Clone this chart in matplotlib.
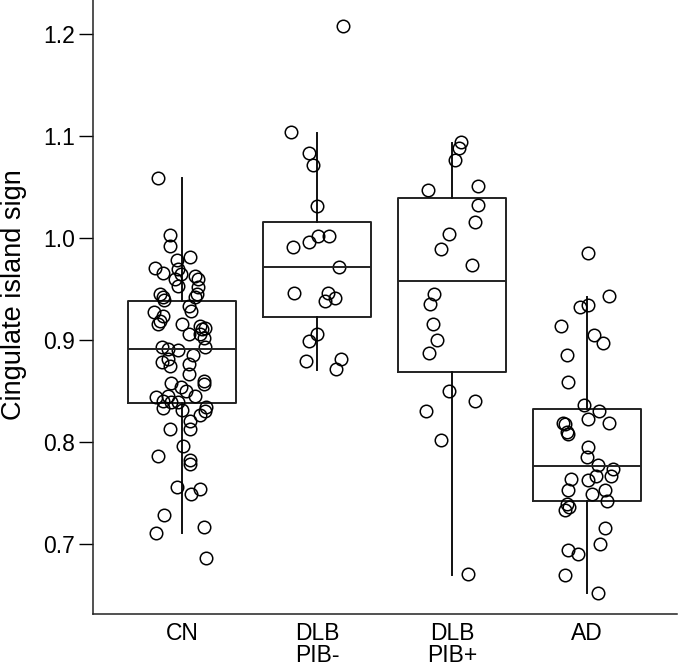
import matplotlib
matplotlib.use("Agg")
import matplotlib.pyplot as plt
import numpy as np

plt.rcParams['font.family'] = ['Liberation Sans', 'DejaVu Sans']

groups = ["CN", "DLB\nPIB-", "DLB\nPIB+", "AD"]

# box statistics
q1 = [0.838, 0.923, 0.869, 0.742]
med = [0.891, 0.972, 0.958, 0.776]
q3 = [0.938, 1.016, 1.039, 0.832]
whislo = [0.711, 0.871, 0.670, 0.652]
whishi = [1.059, 1.103, 1.093, 0.942]

# individual points: values and jitter offsets
cn_y = [1.059, 1.003, 0.992, 0.981, 0.978, 0.971, 0.966, 0.970, 0.965, 0.960,
        0.963, 0.960, 0.953, 0.952, 0.945, 0.945, 0.942, 0.939, 0.942, 0.933,
        0.928, 0.927, 0.924, 0.919, 0.916, 0.916, 0.914, 0.911, 0.912, 0.906,
        0.906, 0.902, 0.893, 0.893, 0.891, 0.890, 0.885, 0.881, 0.878, 0.875,
        0.876, 0.867, 0.860, 0.857, 0.858, 0.854, 0.850, 0.845, 0.844, 0.845,
        0.840, 0.839, 0.839, 0.833, 0.831, 0.834, 0.830, 0.826, 0.821, 0.813,
        0.813, 0.796, 0.786, 0.782, 0.778, 0.756, 0.749, 0.754, 0.728, 0.717,
        0.711, 0.686]
cn_j = [-0.18, -0.09, -0.09, 0.06, -0.04, -0.20, -0.14, -0.03, -0.01, -0.05,
        0.10, 0.12, -0.03, 0.12, 0.11, -0.16, -0.14, -0.13, 0.10, 0.05,
        0.07, -0.21, -0.14, -0.16, -0.18, 0.00, 0.13, 0.15, 0.17, 0.05,
        0.13, 0.16, 0.17, -0.15, -0.10, -0.03, 0.08, -0.10, -0.15, -0.09,
        0.05, 0.05, 0.16, 0.16, -0.08, -0.01, 0.03, 0.10, -0.19, -0.10,
        -0.14, -0.08, -0.03, -0.14, 0.00, 0.18, 0.17, 0.13, 0.06, 0.06,
        -0.09, 0.01, -0.18, 0.06, 0.06, -0.04, 0.07, 0.13, -0.13, 0.16,
        -0.19, 0.18]

pibn_y = [1.208, 1.104, 1.083, 1.072, 1.031, 1.002, 1.002, 0.991, 0.996, 0.972,
          0.946, 0.946, 0.938, 0.941, 0.906, 0.899, 0.879, 0.881, 0.872]
pibn_j = [0.19, -0.19, -0.06, -0.03, 0.00, 0.01, 0.09, -0.18, -0.06, 0.16,
          -0.17, 0.08, 0.06, 0.13, 0.00, -0.06, -0.08, 0.18, 0.14]

pibp_y = [1.094, 1.088, 1.076, 1.047, 1.051, 1.032, 1.016, 1.004, 0.989, 0.974,
          0.945, 0.935, 0.916, 0.900, 0.887, 0.850, 0.840, 0.830, 0.802, 0.671]
pibp_j = [0.07, 0.05, 0.02, -0.18, 0.19, 0.19, 0.17, -0.02, -0.08, 0.15,
          -0.13, -0.16, -0.14, -0.11, -0.17, -0.02, 0.17, -0.19, -0.08, 0.12]

ad_y = [0.985, 0.943, 0.932, 0.934, 0.914, 0.905, 0.897, 0.885, 0.859, 0.836,
        0.830, 0.823, 0.819, 0.819, 0.818, 0.808, 0.810, 0.795, 0.785, 0.777,
        0.774, 0.767, 0.767, 0.764, 0.763, 0.753, 0.753, 0.749, 0.742, 0.739,
        0.736, 0.733, 0.716, 0.700, 0.694, 0.690, 0.670, 0.652]
ad_j = [0.01, 0.16, -0.05, 0.01, -0.19, 0.05, 0.12, -0.15, -0.14, -0.02,
        0.09, 0.01, 0.16, -0.18, -0.16, -0.14, -0.15, 0.01, 0.00, 0.08,
        0.19, 0.18, 0.07, -0.12, 0.01, -0.14, 0.13, 0.04, 0.15, -0.15,
        -0.13, -0.16, 0.13, 0.10, -0.14, -0.07, -0.16, 0.08]

points_y = [cn_y, pibn_y, pibp_y, ad_y]
points_j = [cn_j, pibn_j, pibp_j, ad_j]

fig = plt.figure(figsize=(6.8, 6.67), dpi=100)
ax = fig.add_axes([93/680, 1 - 614/667, (677-93)/680, 614/667])

stats = []
for i in range(4):
    stats.append(dict(med=med[i], q1=q1[i], q3=q3[i], whislo=whislo[i],
                      whishi=whishi[i], fliers=[]))
pos = np.arange(1, 5)
ax.bxp(stats, positions=pos, widths=0.8, showcaps=False, showfliers=False,
       boxprops=dict(color='#222222', linewidth=1.4),
       medianprops=dict(color='#222222', linewidth=1.4),
       whiskerprops=dict(color='#111111', linewidth=1.4))

for i in range(4):
    xs = pos[i] + np.array(points_j[i])
    ax.plot(xs, points_y[i], linestyle='none', marker='o', markersize=9.0,
            markerfacecolor='none', markeredgecolor='black', markeredgewidth=1.1)

ax.set_xlim(0.341, 4.667)
ax.set_ylim(0.6314, 1.2333)
ax.set_yticks([0.7, 0.8, 0.9, 1.0, 1.1, 1.2])
ax.set_yticklabels(['0.7', '0.8', '0.9', '1.0', '1.1', '1.2'])
ax.set_xticks(pos)
ax.set_xticklabels(groups, fontsize=16.5, linespacing=0.95)
ax.tick_params(axis='x', length=0, pad=6)
ax.tick_params(axis='y', length=10, width=1.0, labelsize=16.5, pad=3)
for s in ['top', 'right']:
    ax.spines[s].set_visible(False)
for s in ['left', 'bottom']:
    ax.spines[s].set_linewidth(1.1)
    ax.spines[s].set_color('#222222')
ax.set_ylabel('Cingulate island sign', fontsize=19.5)
ax.yaxis.set_label_coords(-0.113, 0.52)

fig.savefig('out.png', dpi=100)
